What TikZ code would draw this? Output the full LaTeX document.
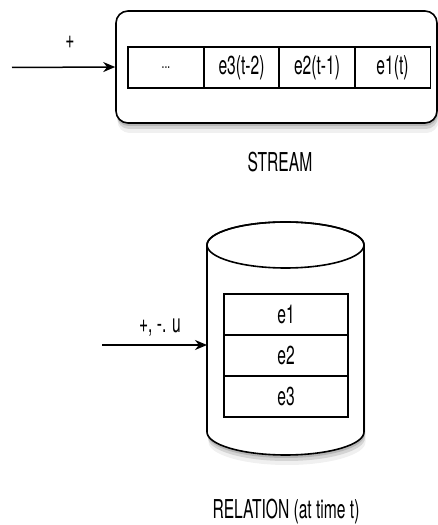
\documentclass[tikz,border=0pt]{standalone}
\usepackage{fontspec}
\setmainfont{TeX Gyre Heros}[FakeStretch=0.6]
\usetikzlibrary{arrows.meta,shadows}

\begin{document}
\begin{tikzpicture}[x=1pt,y=1pt,
        cell/.style={draw, line width=1.4pt, minimum height=41pt, inner sep=0pt},
        feed/.style={-{Stealth[length=12pt,width=10pt]}, line width=1.5pt},
        shade/.style={drop shadow={shadow xshift=0.5pt, shadow yshift=-3pt, opacity=0.35},
            drop shadow={shadow xshift=1pt, shadow yshift=-6pt, opacity=0.25},
            drop shadow={shadow xshift=1.5pt, shadow yshift=-10pt, opacity=0.12}}]
    \useasboundingbox (0,0) rectangle (438,525);
    \fontsize{26}{30}\selectfont
    % stream
    \node[draw, line width=1.6pt, rounded corners=12pt, minimum width=321pt, minimum height=112pt, fill=white, shade] (stream) at (276.5,458) {};
    \foreach \i/\txt in {0/{\fontsize{17}{20}\selectfont...},1/e3(t-2),2/e2(t-1),3/e1(t)} {
        \node[cell, minimum width=76pt] (s\i) at (166+75.5*\i,457.5) {\txt};
    }
    \coordinate (src1) at (12,457.5);
    \draw[feed] (src1) -- (stream.west);
    \node (plus) at (70,483) {+};
    \node (streamlbl) at (280,363) {STREAM};
    % relation
    \draw[line width=1.6pt, fill=white, shade] (207,280) -- (207,93)
        arc[start angle=180, end angle=360, x radius=78.5pt, y radius=23pt] -- (364,280)
        arc[start angle=0, end angle=180, x radius=78.5pt, y radius=23pt] -- cycle;
    \draw[line width=1.6pt] (285.5,280) ellipse [x radius=78.5pt, y radius=23pt];
    \foreach \i in {1,2,3} {
        \node[cell, minimum width=124pt] (r\i) at (286,251.5-41*\i) {e\i};
    }
    \coordinate (src2) at (102,180);
    \coordinate (dbin) at (207,180);
    \draw[feed] (src2) -- (dbin);
    \node (ops) at (160,197) {+, -. u};
    \node (rellbl) at (286,13) {RELATION (at time t)};
\end{tikzpicture}
\end{document}
